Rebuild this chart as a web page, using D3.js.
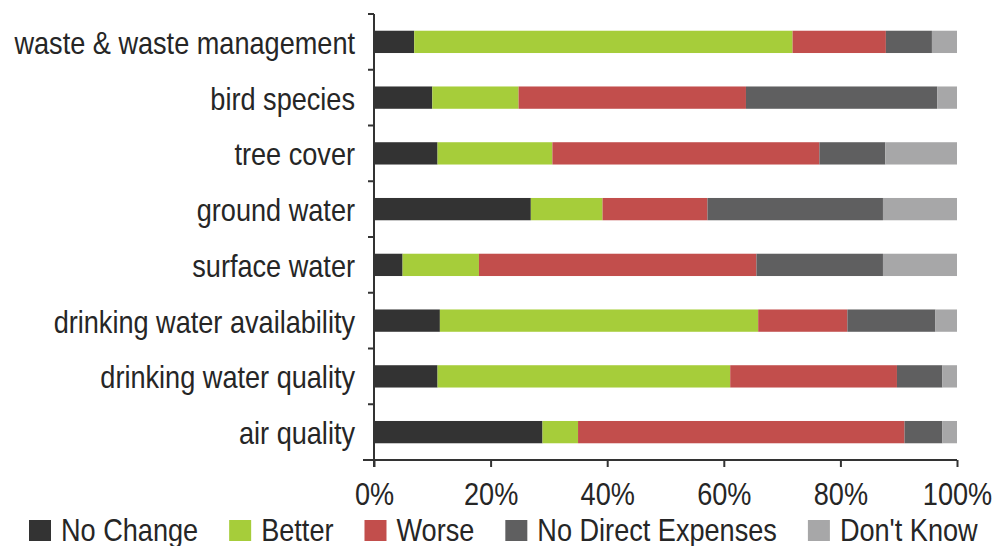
<!DOCTYPE html>
<html><head><meta charset="utf-8">
<script src="https://cdn.jsdelivr.net/npm/d3@7"></script>
<style>
html,body{margin:0;padding:0;background:#fff;}
svg text{font-family:"Liberation Sans",Arial,sans-serif;fill:#262626;}
</style></head>
<body><svg id="c" width="997" height="546"></svg>
<script>
const categories = ["waste & waste management","bird species","tree cover","ground water","surface water","drinking water availability","drinking water quality","air quality"];
const seriesNames = ["No Change","Better","Worse","No Direct Expenses","Don't Know"];
const noChange   = [6.9, 10.0, 10.9, 26.9, 4.9, 11.3, 10.9, 28.9];
const better     = [64.9, 14.8, 19.7, 12.3, 13.1, 54.6, 50.2, 6.1];
const worse      = [16.0, 39.0, 45.8, 18.0, 47.6, 15.3, 28.6, 56.0];
const noDirect   = [7.9, 32.8, 11.3, 30.1, 21.7, 15.1, 7.8, 6.5];
const dontKnow   = [4.3, 3.4, 12.3, 12.7, 12.7, 3.7, 2.5, 2.5];
const xTicks = [0, 20, 40, 60, 80, 100];
const colors = ["#333333","#a6cd3a","#c24e4c","#5f5f60","#a7a7a8"];

const seriesVals = [noChange, better, worse, noDirect, dontKnow];
const keys = seriesNames;
const rows = categories.map((c,i)=>{ const o={cat:c}; keys.forEach((k,j)=>o[k]=seriesVals[j][i]); return o; });

const FS = 31, SX = 0.875;   // condensed look
const svg = d3.select("#c");
const m = {left:374, right:40, top:14, bottom:86};
const W = 997, H = 546;
const x = d3.scaleLinear().domain([0,100]).range([m.left, W-m.right]);
const y = d3.scaleBand().domain(categories).range([m.top, H-m.bottom]).paddingInner(0.6).paddingOuter(0.3);

const stack = d3.stack().keys(keys)(rows);
const color = d3.scaleOrdinal().domain(keys).range(colors);

svg.append("g").selectAll("g").data(stack).join("g")
  .attr("fill", d=>color(d.key))
  .selectAll("rect").data(d=>d).join("rect")
  .attr("x", d=>x(d[0])).attr("width", d=>x(d[1])-x(d[0]))
  .attr("y", d=>y(d.data.cat)).attr("height", y.bandwidth());

// y axis line and boundary ticks
const y0 = m.top, y1 = H-m.bottom;
svg.append("line").attr("x1",m.left).attr("x2",m.left).attr("y1",y0).attr("y2",y1+7).attr("stroke","#333").attr("stroke-width",2);
const bounds = d3.range(categories.length+1).map(i=>y0 + i*(y1-y0)/categories.length);
svg.append("g").selectAll("line").data(bounds).join("line")
  .attr("x1",m.left-6).attr("x2",m.left).attr("y1",d=>d).attr("y2",d=>d)
  .attr("stroke","#333").attr("stroke-width",2);

// y labels
svg.append("g").selectAll("g").data(categories).join("g")
  .attr("transform", d=>`translate(${m.left-19},${y(d)+y.bandwidth()/2+12})`)
  .append("text").attr("transform",`scale(${SX},1)`)
  .attr("text-anchor","end").style("font-size",FS+"px").text(d=>d);

// x axis
const xa = svg.append("g").attr("transform",`translate(0,${y1})`)
  .call(d3.axisBottom(x).tickValues(xTicks).tickSize(7).tickPadding(16).tickFormat(d=>d+"%"));
xa.select(".domain").remove();
xa.selectAll(".tick line").attr("stroke","#333").attr("stroke-width",2);
xa.selectAll(".tick text").style("font-size",FS+"px").attr("fill","#262626")
  .attr("font-family",null).attr("transform",`scale(${SX},1)`);
svg.append("line").attr("x1",m.left-11).attr("x2",x(100)).attr("y1",y1).attr("y2",y1).attr("stroke","#333").attr("stroke-width",2);

// legend
const lg = svg.append("g").attr("transform","translate(29,520)");
let cx = 0;
keys.forEach((k,i)=>{
  const g = lg.append("g").attr("transform",`translate(${cx},0)`);
  g.append("rect").attr("width",22).attr("height",21).attr("fill",color(k));
  const t = g.append("text").attr("transform",`translate(32,21) scale(${SX},1)`).style("font-size",FS+"px").text(k);
  cx += 32 + t.node().getComputedTextLength()*SX + 31;
});
</script></body></html>
